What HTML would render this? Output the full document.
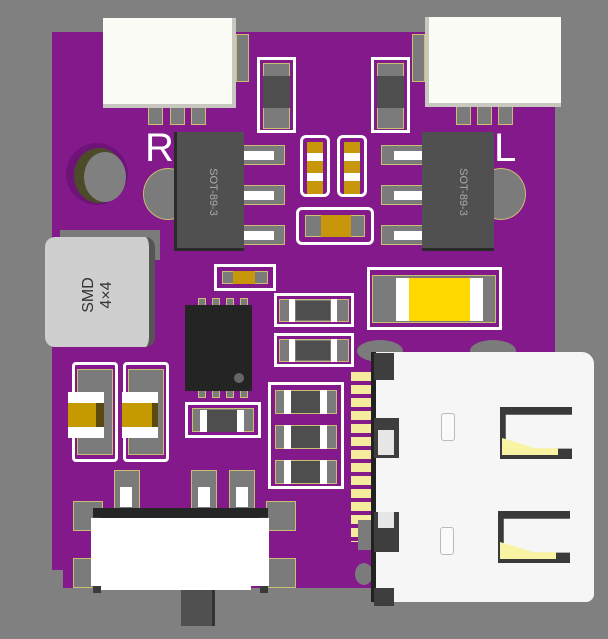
<!DOCTYPE html>
<html><head><meta charset="utf-8"><style>
body{margin:0;width:608px;height:639px;background:#808080;position:relative;overflow:hidden;font-family:"Liberation Sans",sans-serif}
div{position:absolute;box-sizing:border-box}
.b{background:#84198c}
.p{background:#7b7b7b;border:1px solid #c8c070}
.w{background:#fff}
.dk{background:#4e4e4e}
.ol{border:3px solid #fff}
.sot{background:#505050;border-left:3px solid #2a2a2a;border-bottom:3px solid #2a2a2a}
</style></head><body>
<!-- board -->
<div class="b" style="left:52px;top:32px;width:503px;height:556px"></div>
<div style="left:52px;top:570px;width:11px;height:20px;background:#808080"></div>

<!-- left connector -->
<div class="p" style="left:236px;top:34px;width:13px;height:48px"></div>
<div class="p" style="left:148px;top:105px;width:15px;height:20px"></div>
<div class="p" style="left:170px;top:105px;width:15px;height:20px"></div>
<div class="p" style="left:191px;top:105px;width:15px;height:20px"></div>
<div style="left:103px;top:18px;width:133px;height:90px;background:#fcfcf6;border-right:4px solid #c8c8c0;border-bottom:4px solid #c8c8c0"></div>
<!-- right connector -->
<div class="p" style="left:412px;top:34px;width:13px;height:48px"></div>
<div class="p" style="left:456px;top:105px;width:15px;height:20px"></div>
<div class="p" style="left:477px;top:105px;width:15px;height:20px"></div>
<div class="p" style="left:498px;top:105px;width:15px;height:20px"></div>
<div style="left:425px;top:17px;width:136px;height:90px;background:#fcfcf6;border-left:4px solid #c8c8c0;border-bottom:4px solid #c8c8c0"></div>

<!-- top small resistors -->
<div class="ol" style="left:257px;top:57px;width:39px;height:76px"></div>
<div class="p" style="left:263px;top:63px;width:27px;height:66px"></div>
<div class="dk" style="left:263px;top:76px;width:27px;height:32px"></div>
<div class="ol" style="left:371px;top:57px;width:39px;height:76px"></div>
<div class="p" style="left:377px;top:63px;width:27px;height:66px"></div>
<div class="dk" style="left:377px;top:76px;width:27px;height:32px"></div>

<div style="left:145px;top:126px;color:#fff;font-size:40px">R</div>
<div style="left:494px;top:126px;color:#fff;font-size:40px">L</div>

<!-- mounting hole -->
<div style="left:66px;top:143px;width:62px;height:62px;border-radius:50%;background:#6e1478"></div>
<div style="left:74px;top:148px;width:50px;height:55px;border-radius:50%;background:#4d4a2a"></div>
<div style="left:84px;top:152px;width:42px;height:50px;border-radius:50%;background:#808080"></div>
<!-- round pads -->
<div style="left:143px;top:168px;width:50px;height:52px;border-radius:50%;background:#7b7b7b;border:1px solid #c8c070"></div>
<div style="left:476px;top:168px;width:50px;height:52px;border-radius:50%;background:#7b7b7b;border:1px solid #c8c070"></div>

<!-- SOT-89 left -->
<div class="p" style="left:242px;top:145px;width:43px;height:20px"></div>
<div class="w" style="left:244px;top:151px;width:30px;height:9px"></div>
<div class="p" style="left:242px;top:185px;width:43px;height:20px"></div>
<div class="w" style="left:244px;top:191px;width:30px;height:9px"></div>
<div class="p" style="left:242px;top:225px;width:43px;height:20px"></div>
<div class="w" style="left:244px;top:231px;width:30px;height:9px"></div>
<div class="sot" style="left:174px;top:132px;width:70px;height:119px"></div>
<div style="left:174px;top:182px;width:70px;height:20px;color:#aaa;font-size:11px;text-align:center;transform:rotate(90deg)">SOT-89-3</div>
<!-- SOT-89 right -->
<div class="p" style="left:381px;top:145px;width:43px;height:20px"></div>
<div class="w" style="left:394px;top:151px;width:30px;height:9px"></div>
<div class="p" style="left:381px;top:185px;width:43px;height:20px"></div>
<div class="w" style="left:394px;top:191px;width:30px;height:9px"></div>
<div class="p" style="left:381px;top:225px;width:43px;height:20px"></div>
<div class="w" style="left:394px;top:231px;width:30px;height:9px"></div>
<div class="sot" style="left:422px;top:132px;width:72px;height:119px;border-left:none;border-right:0"></div>
<div style="left:424px;top:182px;width:70px;height:20px;color:#aaa;font-size:11px;text-align:center;transform:rotate(90deg)">SOT-89-3</div>

<!-- small caps -->
<div class="ol" style="left:300px;top:135px;width:30px;height:62px;border-radius:6px"></div>
<div style="left:307px;top:142px;width:16px;height:52px;background:#c8960a"></div>
<div class="w" style="left:307px;top:153px;width:16px;height:8px"></div>
<div class="w" style="left:307px;top:173px;width:16px;height:8px"></div>
<div class="ol" style="left:337px;top:135px;width:30px;height:62px;border-radius:6px"></div>
<div style="left:344px;top:142px;width:16px;height:52px;background:#c8960a"></div>
<div class="w" style="left:344px;top:153px;width:16px;height:8px"></div>
<div class="w" style="left:344px;top:173px;width:16px;height:8px"></div>
<div class="ol" style="left:296px;top:207px;width:78px;height:38px;border-radius:6px"></div>
<div class="p" style="left:305px;top:215px;width:60px;height:22px"></div>
<div style="left:321px;top:215px;width:30px;height:22px;background:#c8960a"></div>

<!-- inductor -->
<div style="left:60px;top:230px;width:100px;height:30px;background:#7b7b7b"></div>
<div style="left:45px;top:237px;width:110px;height:110px;background:#cfcfcf;border-radius:10px;border-right:6px solid #555"></div>
<div style="left:45px;top:275px;width:110px;height:40px;color:#333;font-size:16px;text-align:center;line-height:18px;transform:rotate(-90deg)">SMD<br>4×4</div>

<!-- resistor near IC -->
<div class="ol" style="left:214px;top:264px;width:62px;height:27px"></div>
<div class="p" style="left:222px;top:271px;width:46px;height:13px"></div>
<div style="left:233px;top:271px;width:22px;height:13px;background:#c8960a"></div>

<!-- big cap -->
<div class="ol" style="left:367px;top:267px;width:135px;height:63px"></div>
<div class="p" style="left:372px;top:275px;width:124px;height:48px"></div>
<div class="w" style="left:396px;top:278px;width:15px;height:43px"></div>
<div class="w" style="left:468px;top:278px;width:15px;height:43px"></div>
<div style="left:409px;top:278px;width:61px;height:43px;background:#ffd800"></div>

<!-- resistors right of IC -->
<div class="ol" style="left:274px;top:293px;width:80px;height:34px"></div>
<div class="p" style="left:279px;top:299px;width:70px;height:23px"></div>
<div class="w" style="left:289px;top:299px;width:6px;height:23px"></div>
<div class="w" style="left:331px;top:299px;width:6px;height:23px"></div>
<div class="dk" style="left:296px;top:301px;width:34px;height:19px"></div>
<div class="ol" style="left:274px;top:333px;width:80px;height:34px"></div>
<div class="p" style="left:279px;top:339px;width:70px;height:23px"></div>
<div class="w" style="left:289px;top:339px;width:6px;height:23px"></div>
<div class="w" style="left:331px;top:339px;width:6px;height:23px"></div>
<div class="dk" style="left:296px;top:341px;width:34px;height:19px"></div>

<!-- IC -->
<div class="p" style="left:198px;top:298px;width:8px;height:10px"></div>
<div class="p" style="left:212px;top:298px;width:8px;height:10px"></div>
<div class="p" style="left:226px;top:298px;width:8px;height:10px"></div>
<div class="p" style="left:240px;top:298px;width:8px;height:10px"></div>
<div class="p" style="left:198px;top:388px;width:8px;height:10px"></div>
<div class="p" style="left:212px;top:388px;width:8px;height:10px"></div>
<div class="p" style="left:226px;top:388px;width:8px;height:10px"></div>
<div class="p" style="left:240px;top:388px;width:8px;height:10px"></div>
<div style="left:185px;top:305px;width:67px;height:86px;background:#242424"></div>
<div style="left:234px;top:373px;width:10px;height:10px;border-radius:50%;background:#666"></div>

<!-- left caps -->
<div class="ol" style="left:72px;top:362px;width:46px;height:100px;border-radius:4px"></div>
<div class="p" style="left:77px;top:369px;width:36px;height:86px"></div>
<div style="left:68px;top:392px;width:36px;height:46px;background:#c49a00;border-right:8px solid #5a4a10"></div>
<div class="w" style="left:68px;top:392px;width:36px;height:11px"></div>
<div class="w" style="left:68px;top:427px;width:36px;height:11px"></div>
<div class="ol" style="left:123px;top:362px;width:46px;height:100px;border-radius:4px"></div>
<div class="p" style="left:128px;top:369px;width:36px;height:86px"></div>
<div style="left:122px;top:392px;width:36px;height:46px;background:#c49a00;border-right:6px solid #5a4a10"></div>
<div class="w" style="left:122px;top:392px;width:36px;height:11px"></div>
<div class="w" style="left:122px;top:427px;width:36px;height:11px"></div>

<!-- resistor below IC -->
<div class="ol" style="left:185px;top:402px;width:76px;height:36px"></div>
<div class="p" style="left:192px;top:408px;width:62px;height:24px"></div>
<div class="w" style="left:200px;top:410px;width:7px;height:22px"></div>
<div class="w" style="left:237px;top:410px;width:7px;height:22px"></div>
<div class="dk" style="left:207px;top:410px;width:30px;height:22px"></div>

<!-- three resistors -->
<div class="ol" style="left:268px;top:382px;width:76px;height:107px"></div>
<div class="p" style="left:275px;top:390px;width:62px;height:24px"></div><div class="w" style="left:284px;top:390px;width:7px;height:24px"></div><div class="w" style="left:320px;top:390px;width:7px;height:24px"></div><div class="dk" style="left:291px;top:391px;width:29px;height:22px"></div>
<div class="p" style="left:275px;top:425px;width:62px;height:24px"></div><div class="w" style="left:284px;top:425px;width:7px;height:24px"></div><div class="w" style="left:320px;top:425px;width:7px;height:24px"></div><div class="dk" style="left:291px;top:426px;width:29px;height:22px"></div>
<div class="p" style="left:275px;top:460px;width:62px;height:24px"></div><div class="w" style="left:284px;top:460px;width:7px;height:24px"></div><div class="w" style="left:320px;top:460px;width:7px;height:24px"></div><div class="dk" style="left:291px;top:461px;width:29px;height:22px"></div>

<!-- USB pins -->
<div style="left:351px;top:372px;width:20px;height:170px;background:repeating-linear-gradient(#f4ec9c 0 9px,#84198c 9px 13px)"></div>
<div style="left:358px;top:520px;width:22px;height:30px;background:#7b7b7b"></div>
<div style="left:355px;top:563px;width:18px;height:22px;border-radius:50%;background:#7b7b7b"></div>
<div style="left:357px;top:340px;width:46px;height:22px;border-radius:50%;background:#7b7b7b"></div>
<div style="left:470px;top:340px;width:46px;height:22px;border-radius:50%;background:#7b7b7b"></div>

<!-- USB-C -->
<div style="left:371px;top:352px;width:223px;height:250px;background:#f6f6f6;border-radius:0 12px 8px 0;border-left:5px solid #222"></div>
<div style="left:374px;top:353px;width:20px;height:27px;background:#3e3e3e"></div>
<div style="left:374px;top:418px;width:25px;height:40px;background:#3e3e3e"></div>
<div style="left:378px;top:430px;width:16px;height:25px;background:#e6e6e6"></div>
<div style="left:374px;top:512px;width:25px;height:40px;background:#3e3e3e"></div>
<div style="left:378px;top:512px;width:16px;height:16px;background:#e6e6e6"></div>
<div style="left:374px;top:588px;width:20px;height:18px;background:#3e3e3e"></div>
<div style="left:441px;top:413px;width:14px;height:28px;border:1px solid #bbb;border-radius:3px;background:#fafafa"></div>
<div style="left:440px;top:527px;width:14px;height:28px;border:1px solid #bbb;border-radius:3px;background:#fafafa"></div>
<div style="left:500px;top:407px;width:72px;height:52px;background:#3a3a3a;clip-path:polygon(0 0,100% 0,100% 15%,8% 15%,8% 80%,100% 80%,100% 100%,0 100%)"></div>
<div style="left:502px;top:438px;width:56px;height:17px;background:#f8f4a4;clip-path:polygon(0 0,60% 60%,100% 60%,100% 100%,0 100%)"></div>
<div style="left:498px;top:511px;width:72px;height:52px;background:#3a3a3a;clip-path:polygon(0 0,100% 0,100% 15%,8% 15%,8% 80%,100% 80%,100% 100%,0 100%)"></div>
<div style="left:500px;top:542px;width:56px;height:17px;background:#f8f4a4;clip-path:polygon(0 0,60% 60%,100% 60%,100% 100%,0 100%)"></div>

<!-- switch pads -->
<div class="p" style="left:114px;top:470px;width:26px;height:45px"></div><div class="w" style="left:120px;top:487px;width:12px;height:20px"></div>
<div class="p" style="left:191px;top:470px;width:26px;height:45px"></div><div class="w" style="left:198px;top:487px;width:12px;height:20px"></div>
<div class="p" style="left:229px;top:470px;width:26px;height:45px"></div><div class="w" style="left:236px;top:487px;width:12px;height:20px"></div>
<div class="p" style="left:73px;top:501px;width:30px;height:30px"></div>
<div class="p" style="left:266px;top:501px;width:30px;height:30px"></div>
<div class="p" style="left:73px;top:558px;width:30px;height:30px"></div>
<div class="p" style="left:266px;top:558px;width:30px;height:30px"></div>
<!-- switch -->
<div style="left:181px;top:588px;width:34px;height:38px;background:#505050;border-right:3px solid #333"></div>
<div style="left:93px;top:508px;width:175px;height:12px;background:#262626"></div>
<div style="left:93px;top:517px;width:8px;height:76px;background:#3a3a3a"></div>
<div style="left:260px;top:517px;width:8px;height:76px;background:#3a3a3a"></div>
<div class="w" style="left:91px;top:518px;width:178px;height:68px"></div>
<div class="w" style="left:101px;top:580px;width:150px;height:10px"></div>
</body></html>
